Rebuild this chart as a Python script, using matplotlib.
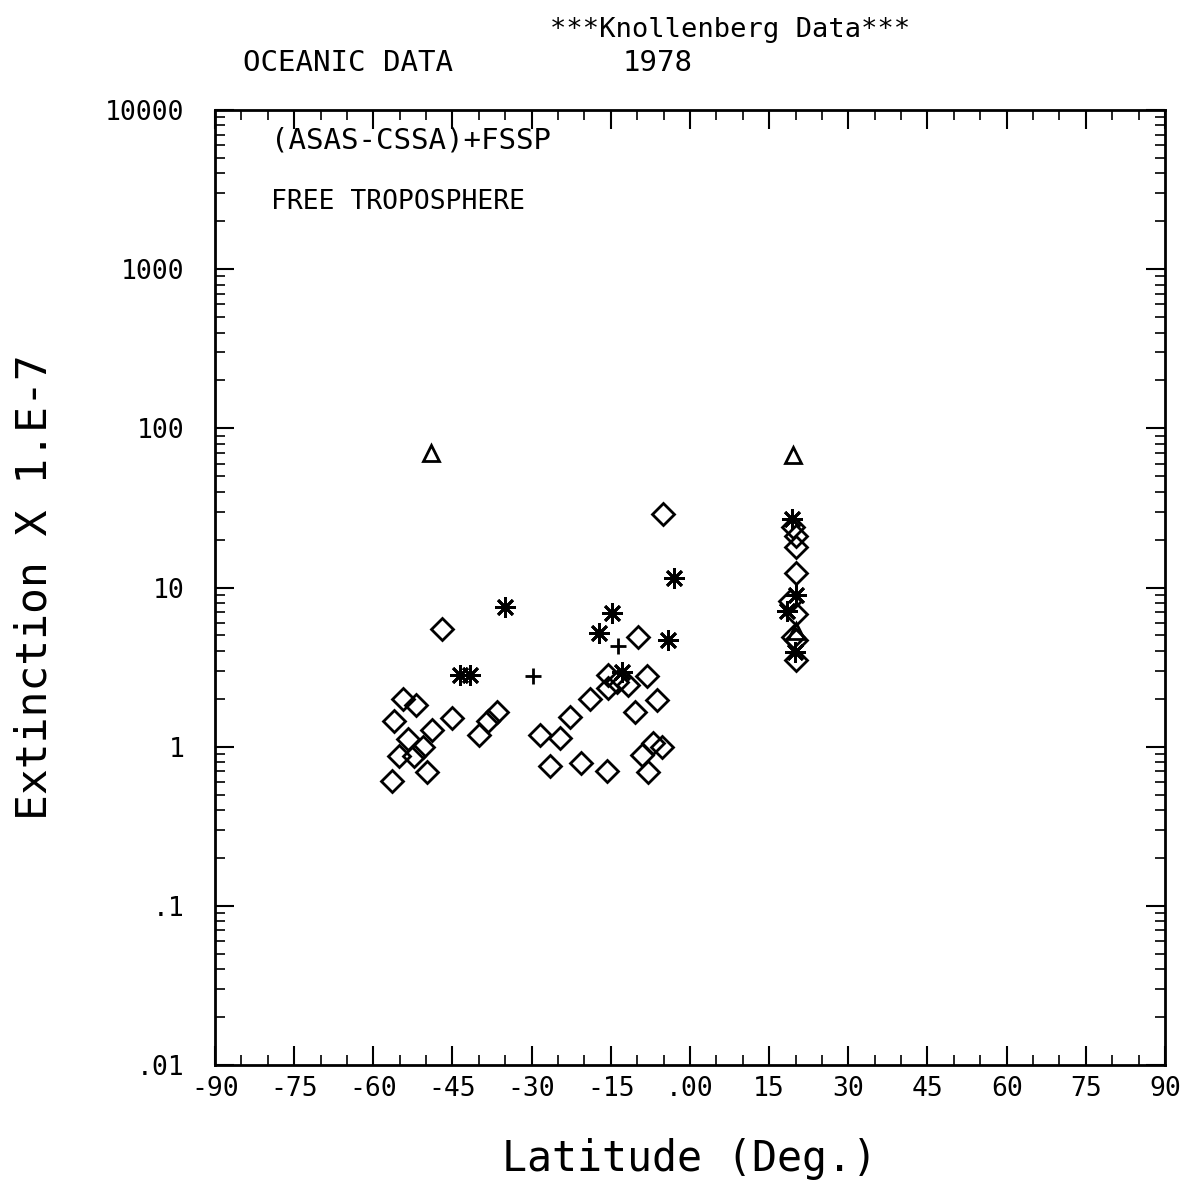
"""Knollenberg oceanic extinction vs latitude, 1978, free troposphere."""
import numpy as np
import matplotlib
matplotlib.use('Agg')
import matplotlib.pyplot as plt
from matplotlib.ticker import FixedLocator, LogLocator, NullFormatter

# diamonds
dia_lat = [-56.5, -56.1, -54.4, -55.1, -53.4, -51.9, -52.3, -50.6, -49.8, -48.9,
           -47.0, -45.1, -40.0, -38.3, -36.6,
           -28.4, -26.5, -24.6, -22.7, -20.7, -18.9, -15.7, -5.1, -9.9, -8.2,
           -15.5, -13.8, -11.7, -15.5, -6.3, -10.4, -7.0, -5.3, -9.1, -8.0,
           19.5, 20.0, 20.0, 20.0, 19.0, 20.0, 20.0, 20.0, 19.6]
dia_ext = [0.61, 1.44, 1.98, 0.87, 1.12, 1.84, 0.87, 0.99, 0.69, 1.28,
           5.5, 1.52, 1.19, 1.44, 1.66,
           1.18, 0.76, 1.13, 1.53, 0.79, 2.0, 0.70, 28.8, 4.9, 2.76,
           2.84, 2.56, 2.45, 2.35, 1.97, 1.64, 1.06, 0.99, 0.89, 0.69,
           24.0, 21.0, 17.9, 12.4, 8.2, 6.8, 4.7, 3.5, 4.9]

# asterisks
ast_lat = [-43.6, -41.7, -35.1, -3.0, -14.8, -17.2, -4.2, -12.9,
           19.3, 20.1, 18.4, 19.9]
ast_ext = [2.8, 2.8, 7.5, 11.5, 6.96, 5.2, 4.7, 2.96,
           26.8, 9.0, 7.1, 3.96]

# plus
plus_lat = [-29.7, -13.6]
plus_ext = [2.76, 4.26]

# triangles
tri_lat = [-49.1, 19.5, 20.0]
tri_ext = [69.6, 68.0, 5.3]

xticks = [-90, -75, -60, -45, -30, -15, 0, 15, 30, 45, 60, 75, 90]
xlabels = ['-90', '-75', '-60', '-45', '-30', '-15', '.00', '15', '30', '45', '60', '75', '90']
yticks = [0.01, 0.1, 1, 10, 100, 1000, 10000]
ylabels = ['.01', '.1', '1', '10', '100', '1000', '10000']

plt.rcParams['font.family'] = ['DejaVu Sans Mono']

fig = plt.figure(figsize=(12.03, 11.84), dpi=100)
ax = fig.add_axes([0.1787, 0.1005, 0.7897, 0.8066])

kw = dict(ls='none', color='k', mfc='none', mew=2)
ax.plot(dia_lat, dia_ext, marker='D', ms=11, **kw)
ax.plot(ast_lat, ast_ext, marker=(8, 2, 0), ms=15, **kw)
ax.plot(plus_lat, plus_ext, marker='+', ms=12, **kw)
ax.plot(tri_lat, tri_ext, marker='^', ms=11, **kw)

ax.set_xlim(-90, 90)
ax.set_yscale('log')
ax.set_ylim(0.01, 10000)

ax.xaxis.set_major_locator(FixedLocator(xticks))
ax.set_xticklabels(xlabels)
ax.xaxis.set_minor_locator(FixedLocator(np.arange(-90, 91, 5)))
ax.yaxis.set_major_locator(FixedLocator(yticks))
ax.set_yticklabels(ylabels)
ax.yaxis.set_minor_locator(LogLocator(base=10, subs=np.arange(2, 10)))
ax.yaxis.set_minor_formatter(NullFormatter())

ax.tick_params(which='both', direction='in', top=True, right=True, color='k')
ax.tick_params(which='major', length=14, width=1.5)
ax.tick_params(which='minor', length=7, width=1.2)
ax.tick_params(axis='x', which='major', labelsize=19, pad=8)
ax.tick_params(axis='y', which='major', labelsize=19, pad=22)
for s in ax.spines.values():
    s.set_linewidth(2)

ax.set_xlabel('Latitude (Deg.)', fontsize=30, labelpad=26)
ax.set_ylabel('Extinction X 1.E-7', fontsize=31, labelpad=36)

fig.text(0.607, 0.975, '***Knollenberg Data***', fontsize=19.5, ha='center', va='center')
fig.text(0.202, 0.947, 'OCEANIC DATA', fontsize=21, ha='left', va='center')
fig.text(0.547, 0.947, '1978', fontsize=21, ha='center', va='center')
ax.text(0.059, 0.968, '(ASAS-CSSA)+FSSP', fontsize=21, transform=ax.transAxes, va='center')
ax.text(0.059, 0.904, 'FREE TROPOSPHERE', fontsize=19, transform=ax.transAxes, va='center')

fig.savefig('out.png', dpi=100)
